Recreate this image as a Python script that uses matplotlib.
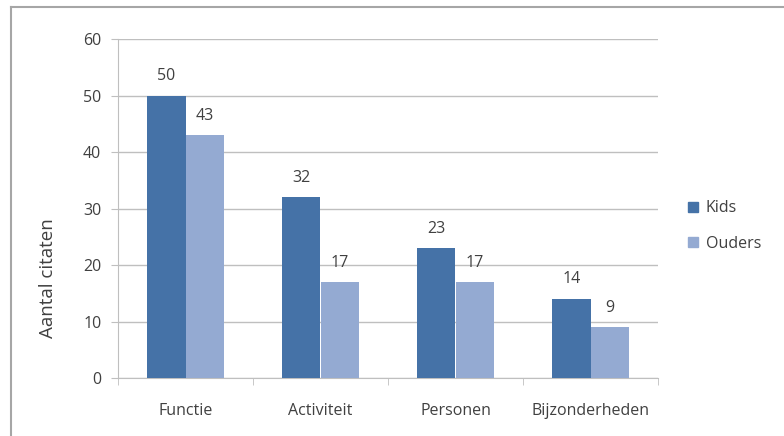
import numpy as np
import matplotlib
matplotlib.use('Agg')
import matplotlib.pyplot as plt
from matplotlib.lines import Line2D
from matplotlib.patches import Patch

categories = ['Functie', 'Activiteit', 'Personen', 'Bijzonderheden']
kids = [50, 32, 23, 14]
ouders = [43, 17, 17, 9]
y_ticks = [0, 10, 20, 30, 40, 50, 60]

plt.rcParams['font.family'] = ['Open Sans', 'DejaVu Sans']
txt = '#404040'
grid_c = '#bfbfbf'
c_kids = '#4572A7'
c_ouders = '#94AAD2'
fs = 11.5

fig = plt.figure(figsize=(7.84, 4.36), dpi=100)
ax = fig.add_axes([118/784, 1-378/436, 540/784, 339/436])

x = np.arange(len(categories))
w = 0.285
ax.bar(x - w/2, kids, w, color=c_kids, label='Kids', zorder=3)
ax.bar(x + w/2, ouders, w, color=c_ouders, label='Ouders', zorder=3)

for xi, v in zip(x - w/2, kids):
    ax.annotate(str(v), (xi, v), xytext=(0, 14), textcoords='offset points',
                ha='center', va='center', fontsize=fs, color=txt)
for xi, v in zip(x + w/2, ouders):
    ax.annotate(str(v), (xi, v), xytext=(0, 14), textcoords='offset points',
                ha='center', va='center', fontsize=fs, color=txt)

ax.set_xlim(-0.5, len(categories) - 0.5)
ax.set_ylim(0, 60)
ax.set_yticks(y_ticks)
ax.yaxis.grid(True, color=grid_c, lw=1, zorder=0)
ax.set_axisbelow(True)

for s in ['top', 'right']:
    ax.spines[s].set_visible(False)
ax.spines['left'].set_color(grid_c)
ax.spines['bottom'].set_color(grid_c)

ax.set_xticks(x)
ax.set_xticklabels(categories)
ax.set_xticks(np.arange(-0.5, len(categories)), minor=True)
ax.tick_params(axis='x', which='major', length=0, pad=18, labelsize=fs, labelcolor=txt)
ax.tick_params(axis='x', which='minor', length=5, color=grid_c)
ax.tick_params(axis='y', length=5, color=grid_c, labelsize=fs, labelcolor=txt, pad=7)

fig.text(48/784, 1-278/436, 'Aantal citaten', rotation=90, ha='center', va='center',
         fontsize=13.5, color=txt)

handles = [Patch(color=c_kids, label='Kids'), Patch(color=c_ouders, label='Ouders')]
fig.legend(handles=handles, loc='center left', bbox_to_anchor=(674/784, 1-226/436),
           frameon=False, fontsize=fs, labelcolor=txt, handlelength=0.6,
           handleheight=0.6, handletextpad=0.5, labelspacing=1.2)

# outer chart frame
fx0, fy0 = 11/784, 1-7/436
fig.add_artist(Line2D([fx0, fx0], [0, fy0], transform=fig.transFigure, color='#a6a6a6', lw=1.5))
fig.add_artist(Line2D([fx0, 1], [fy0, fy0], transform=fig.transFigure, color='#a6a6a6', lw=1.5))

fig.savefig('out.png', dpi=100)
